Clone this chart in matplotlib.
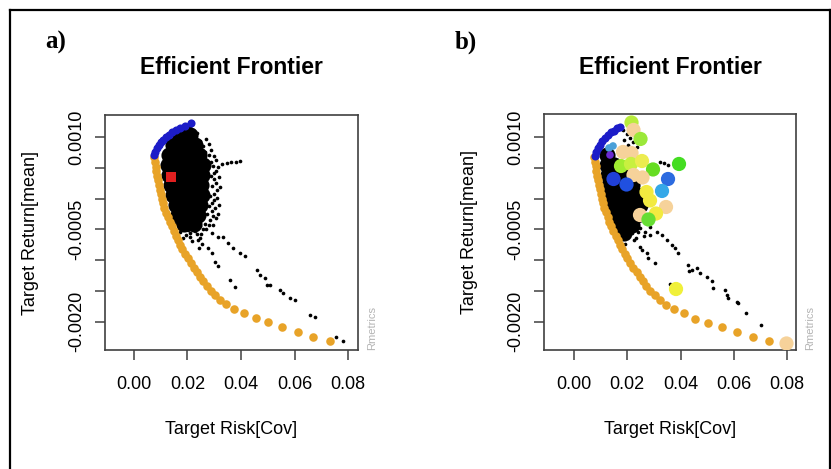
import matplotlib
matplotlib.use("Agg")
import matplotlib.pyplot as plt
from matplotlib.lines import Line2D

plt.rcParams["font.family"] = ["Liberation Sans", "DejaVu Sans"]

# ---- efficient (upper) branch of the frontier -------------------------------
EFF_A_RISK = [0.00767, 0.00804, 0.0086, 0.00935, 0.0101, 0.01103, 0.01197,
              0.01309, 0.0144, 0.01571, 0.01739, 0.01907, 0.0215]
EFF_A_RET = [0.000708, 0.000765, 0.000821, 0.00087, 0.000919, 0.000959, 0.001,
             0.00104, 0.001081, 0.001114, 0.001154, 0.001187, 0.001232]
EFF_B_RISK = [0.00789, 0.00826, 0.00883, 0.00958, 0.01052, 0.01164, 0.01277,
              0.0139, 0.01502, 0.01615, 0.01728]
EFF_B_RET = [0.000692, 0.000757, 0.000821, 0.000878, 0.000935, 0.000984,
             0.001032, 0.001073, 0.001105, 0.001138, 0.00117]

# ---- inefficient (lower) branch, shared by both panels ----------------------
INEFF_RISK = [0.00767, 0.00785, 0.00808, 0.00834, 0.0086, 0.0089, 0.00924,
              0.00961, 0.01002, 0.01043, 0.01085, 0.01137, 0.01197, 0.01264,
              0.01331, 0.01406, 0.01481, 0.0156, 0.01642, 0.0172, 0.01814,
              0.01907, 0.02008, 0.02117, 0.02229, 0.02349, 0.02468, 0.02581,
              0.02712, 0.02861, 0.03029, 0.03216, 0.03441, 0.0374, 0.04114,
              0.04563, 0.05023, 0.05546, 0.06122, 0.06706, 0.0733]
INEFF_RET = [0.000671, 0.000596, 0.000521, 0.000447, 0.000372, 0.000297,
             0.000223, 0.000148, 0.000073, -0.000002, -0.000076, -0.000151,
             -0.000225, -0.0003, -0.000375, -0.000449, -0.000524, -0.000599,
             -0.000673, -0.000748, -0.000823, -0.000897, -0.000972, -0.001047,
             -0.001121, -0.001196, -0.001271, -0.001345, -0.00142, -0.001495,
             -0.001569, -0.001644, -0.001719, -0.001793, -0.001861, -0.001946,
             -0.002011, -0.002089, -0.002165, -0.002241, -0.002311]

# ---- Monte Carlo portfolios, panel a (dense core + loose points) ------------
CORE_A_RISK = [0.0172, 0.02094,
               0.01459, 0.0187, 0.02281,
               0.01309, 0.01683, 0.02057, 0.02431,
               0.01272, 0.01646, 0.0202, 0.02394, 0.02581,
               0.01309, 0.01683, 0.02057, 0.02431, 0.02543,
               0.01384, 0.01758, 0.02132, 0.02506,
               0.01459, 0.01833, 0.02207, 0.02543,
               0.01571, 0.01945, 0.02319, 0.02468,
               0.01646, 0.0202, 0.02394,
               0.0187, 0.02244]
CORE_A_RET = [0.001032, 0.001032,
              0.00087, 0.00087, 0.00087,
              0.000708, 0.000708, 0.000708, 0.000708,
              0.000546, 0.000546, 0.000546, 0.000546, 0.000546,
              0.000383, 0.000383, 0.000383, 0.000383, 0.000383,
              0.000221, 0.000221, 0.000221, 0.000221,
              0.000059, 0.000059, 0.000059, 0.000059,
              -0.000104, -0.000104, -0.000104, -0.000104,
              -0.000266, -0.000266, -0.000266,
              -0.000412, -0.000412]
MC_A_RISK = [0.02207, 0.02356, 0.02094, 0.02319, 0.02468, 0.02581, 0.02394,
             0.02655, 0.02805, 0.02618, 0.0288, 0.02955, 0.03067, 0.0288,
             0.02992, 0.02917, 0.03104, 0.02842, 0.02992, 0.02805, 0.02917,
             0.0273, 0.02842, 0.02655, 0.02468, 0.0202, 0.02281, 0.01945,
             0.02506, 0.02693, 0.02955, 0.03067, 0.03179, 0.03291, 0.03478,
             0.03628, 0.03815, 0.03964, 0.0172, 0.01833, 0.02094, 0.02169,
             0.02394, 0.02543, 0.02431, 0.02768, 0.02917, 0.03029, 0.03142,
             0.0359, 0.03777, 0.02917, 0.03142, 0.03329, 0.03516, 0.03703,
             0.03964, 0.04151, 0.046, 0.04712, 0.049, 0.04974, 0.05086, 0.0546,
             0.05573, 0.05834, 0.06021, 0.06582, 0.06769, 0.07555, 0.07817,
             0.02693, 0.02805, 0.0288, 0.02992, 0.03067, 0.03142, 0.02992,
             0.03179, 0.03067, 0.03216, 0.02992, 0.03104, 0.02917, 0.03029,
             0.02955, 0.03142, 0.02805, 0.02581, 0.02356, 0.02169, 0.01907,
             0.01683, 0.01533, 0.02468, 0.02094]
MC_A_RET = [0.001114, 0.001065, 0.001162, 0.000984, 0.000935, 0.000854,
            0.000838, 0.000757, 0.000708, 0.000627, 0.000594, 0.000529,
            0.000448, 0.000367, 0.000318, 0.000205, 0.00014, 0.000042,
            -0.000022, -0.00012, -0.000201, -0.00025, -0.000347, -0.000412,
            -0.000444, -0.000509, -0.000526, -0.000591, -0.000574, -0.000493,
            -0.000428, -0.000315, -0.000104, 0.000562, 0.000578, 0.000594,
            0.000594, 0.00061, -0.000542, -0.000639, -0.000558, -0.000688,
            -0.000672, -0.000737, -0.000802, -0.000802, -0.000883, -0.001029,
            -0.001094, -0.001321, -0.001435, -0.000558, -0.000623, -0.000623,
            -0.00072, -0.000802, -0.000883, -0.000931, -0.001159, -0.00124,
            -0.001288, -0.001402, -0.001402, -0.001483, -0.001532, -0.001613,
            -0.001645, -0.001889, -0.001921, -0.002246, -0.002311,
            0.000968, 0.000886, 0.000789, 0.000692, 0.000627, 0.000513,
            0.000416, 0.000351, 0.000253, 0.000189, 0.000075, 0.00001,
            -0.000071, -0.000152, -0.000282, -0.00025, -0.000428, -0.000493,
            -0.000574, -0.000477, -0.000493, -0.000477, -0.000412, -0.000639,
            -0.000623]
EQW_RISK, EQW_RET = 0.01384, 0.000346      # equal-weights portfolio (panel a)

# ---- Monte Carlo portfolios, panel b ----------------------------------------
CORE_B_RISK = [0.0124,
               0.0124, 0.01502,
               0.01277, 0.01578, 0.01803,
               0.01315, 0.01615, 0.01991, 0.02178,
               0.01352, 0.01653, 0.02028, 0.02366,
               0.01427, 0.01728, 0.02103, 0.02479,
               0.0150, 0.01803, 0.02178, 0.02366,
               0.01615, 0.01991, 0.02178,
               0.01878]
CORE_B_RET = [0.000708,
              0.000546, 0.000546,
              0.000383, 0.000383, 0.000383,
              0.000221, 0.000221, 0.000221, 0.000221,
              0.000059, 0.000059, 0.000059, 0.000059,
              -0.000104, -0.000104, -0.000104, -0.000104,
              -0.000266, -0.000266, -0.000266, -0.000266,
              -0.000428, -0.000428, -0.000428,
              -0.000558]
MC_B_RISK = [0.0184, 0.01991, 0.02103, 0.02216, 0.02028, 0.02366, 0.01878,
             0.0323, 0.0338, 0.03531, 0.01127, 0.0124, 0.01352, 0.01427,
             0.01502, 0.02479, 0.02667, 0.0184, 0.02178, 0.02329, 0.02479,
             0.02554, 0.02742, 0.02779, 0.03042, 0.02855, 0.03118, 0.03305,
             0.03493, 0.03681, 0.03794, 0.03906, 0.04282, 0.04432, 0.0462,
             0.03606, 0.04319, 0.04733, 0.04995, 0.05183, 0.05221, 0.05672,
             0.05747, 0.05784, 0.06122, 0.0616, 0.0646, 0.07024,
             0.01427, 0.01578, 0.01803, 0.02028, 0.02404, 0.02629, 0.02254,
             0.01916, 0.02855]
MC_B_RET = [0.001114, 0.001049, 0.000984, 0.000919, 0.00087, 0.000838,
            0.000951, 0.000594, 0.000578, 0.000546, 0.00014, -0.000022,
            -0.000185, -0.00038, -0.000477, -0.000477, -0.000542, -0.000396,
            -0.000558, -0.000639, -0.000785, -0.000834, -0.000883, -0.000964,
            -0.001045, -0.000461, -0.000542, -0.000591, -0.000672, -0.000753,
            -0.000802, -0.000883, -0.001077, -0.001159, -0.001126, -0.001386,
            -0.001175, -0.001207, -0.001272, -0.001337, -0.001451, -0.001483,
            -0.001564, -0.001613, -0.001678, -0.001694, -0.001856, -0.002051,
            -0.000509, -0.000607, -0.000639, -0.000607, -0.000542, -0.000607,
            -0.000672, -0.000737, -0.000591]

# ---- coloured portfolios (panel b) ------------------------------------------
PTS_B_RISK = [0.0216, 0.02235, 0.02498, 0.0184, 0.0216, 0.01765, 0.02141,
              0.02554, 0.02967, 0.03944, 0.02235, 0.02573, 0.03531, 0.01484,
              0.01972, 0.03305, 0.02723, 0.02855, 0.03456, 0.02479, 0.0308,
              0.02798, 0.03831, 0.07981]
PTS_B_RET = [0.001235, 0.001114, 0.000968, 0.000757, 0.00074, 0.000529,
             0.000562, 0.00061, 0.000473, 0.000562, 0.000383, 0.000343,
             0.000318, 0.000318, 0.000229, 0.000124, 0.000107, -0.00003,
             -0.000136, -0.000266, -0.000242, -0.000339, -0.001467, -0.002351]
PTS_B_COL = ["#b8ec3c", "#f6d29a", "#9be83a", "#f6d29a", "#f6d29a", "#a0ec30",
             "#c8f040", "#ecec50", "#66dd22", "#44dd22", "#f6d29a", "#f6d29a",
             "#2c6be0", "#2040d8", "#2050e0", "#35a8e8", "#f2ea40", "#f2ea40",
             "#f6d29a", "#f6d29a", "#f2ea40", "#66dd33", "#f0f03a", "#f6d29a"]
# small coloured points tucked under the efficient branch (panel b)
SMALL_B_RISK = [0.01315, 0.01465, 0.01352]
SMALL_B_RET = [0.000821, 0.000854, 0.000708]
SMALL_B_COL = ["#4aa0d8", "#4aa0d8", "#6a2ad0"]

X_TICKS = [0.00, 0.02, 0.04, 0.06, 0.08]
Y_TICKS = [0.0010, 0.0005, 0.0, -0.0005, -0.0010, -0.0015, -0.0020]
Y_LABELS = ["0.0010", "", "", "-0.0005", "", "", "-0.0020"]

BLUE, ORANGE = "#1c1cc8", "#e8a328"
W, H = 831, 469


def _frame(ax, xlim, ylim):
    ax.set_xlim(*xlim); ax.set_ylim(*ylim)
    ax.set_xticks(X_TICKS)
    ax.set_xticklabels([f"{v:.2f}" for v in X_TICKS])
    ax.set_yticks(Y_TICKS)
    ax.set_yticklabels(Y_LABELS, rotation=90, va="center")
    ax.tick_params(axis="x", length=7, width=1.1, pad=12, labelsize=13,
                   color="#404040")
    ax.tick_params(axis="y", length=7, width=1.1, pad=7, labelsize=13,
                   color="#404040")
    for s in ax.spines.values():
        s.set_color("#404040"); s.set_linewidth(1.2)
    ax.set_xlabel("Target Risk[Cov]", fontsize=13)
    ax.set_ylabel("Target Return[mean]", fontsize=13)
    ax.xaxis.set_label_coords(0.5, -0.30)
    ax.yaxis.set_label_coords(-0.26, 0.5)
    ax.text(1.055, 0.0, "Rmetrics", transform=ax.transAxes, rotation=90,
            ha="center", va="bottom", fontsize=8, color="#b4b4b4")


fig = plt.figure(figsize=(W / 100, H / 100), dpi=100)
axa = fig.add_axes([105 / W, 1 - 350 / H, 253 / W, 235 / H])
axb = fig.add_axes([544 / W, 1 - 350 / H, 252 / W, 236 / H])

# panel a
axa.scatter(CORE_A_RISK, CORE_A_RET, s=135, c="k", lw=0, zorder=2)
axa.scatter(MC_A_RISK, MC_A_RET, s=7, c="k", lw=0, zorder=2)
axa.scatter(INEFF_RISK, INEFF_RET, s=38, c=ORANGE, lw=0, zorder=3)
axa.scatter(EFF_A_RISK, EFF_A_RET, s=34, c=BLUE, lw=0, zorder=3)
axa.scatter([EQW_RISK], [EQW_RET], s=55, marker="s", c="#e02020", lw=0, zorder=4)
_frame(axa, (-0.0108, 0.0837), (-0.00246, 0.00136))

# panel b
axb.scatter(CORE_B_RISK, CORE_B_RET, s=135, c="k", lw=0, zorder=2)
axb.scatter(MC_B_RISK, MC_B_RET, s=7, c="k", lw=0, zorder=2)
axb.scatter(INEFF_RISK, INEFF_RET, s=38, c=ORANGE, lw=0, zorder=3)
axb.scatter(EFF_B_RISK, EFF_B_RET, s=34, c=BLUE, lw=0, zorder=3)
axb.scatter(SMALL_B_RISK, SMALL_B_RET, s=30, c=SMALL_B_COL, lw=0, zorder=3)
axb.scatter(PTS_B_RISK, PTS_B_RET, s=105, c=PTS_B_COL, lw=0, zorder=4)
_frame(axb, (-0.01127, 0.08338), (-0.002457, 0.001373))

# titles and panel tags
for cx, tag, tx in [(231, "a)", 56), (670, "b)", 466)]:
    fig.text(cx / W, 1 - 67 / H, "Efficient Frontier", ha="center",
             va="center", fontsize=16.5, fontweight="bold")
    fig.text(tx / W, 1 - 42 / H, tag, ha="center", va="center", fontsize=18,
             fontweight="bold", family=["Liberation Serif", "DejaVu Serif"])

# outer frame
fig.add_artist(Line2D([10 / W, 10 / W], [0, 1 - 10 / H], color="k", lw=1.6))
fig.add_artist(Line2D([10 / W, 829.5 / W], [1 - 10 / H, 1 - 10 / H],
                      color="k", lw=1.6))
fig.add_artist(Line2D([829.5 / W, 829.5 / W], [0, 1 - 10 / H], color="k",
                      lw=1.6))

fig.savefig("out.png", dpi=100)
